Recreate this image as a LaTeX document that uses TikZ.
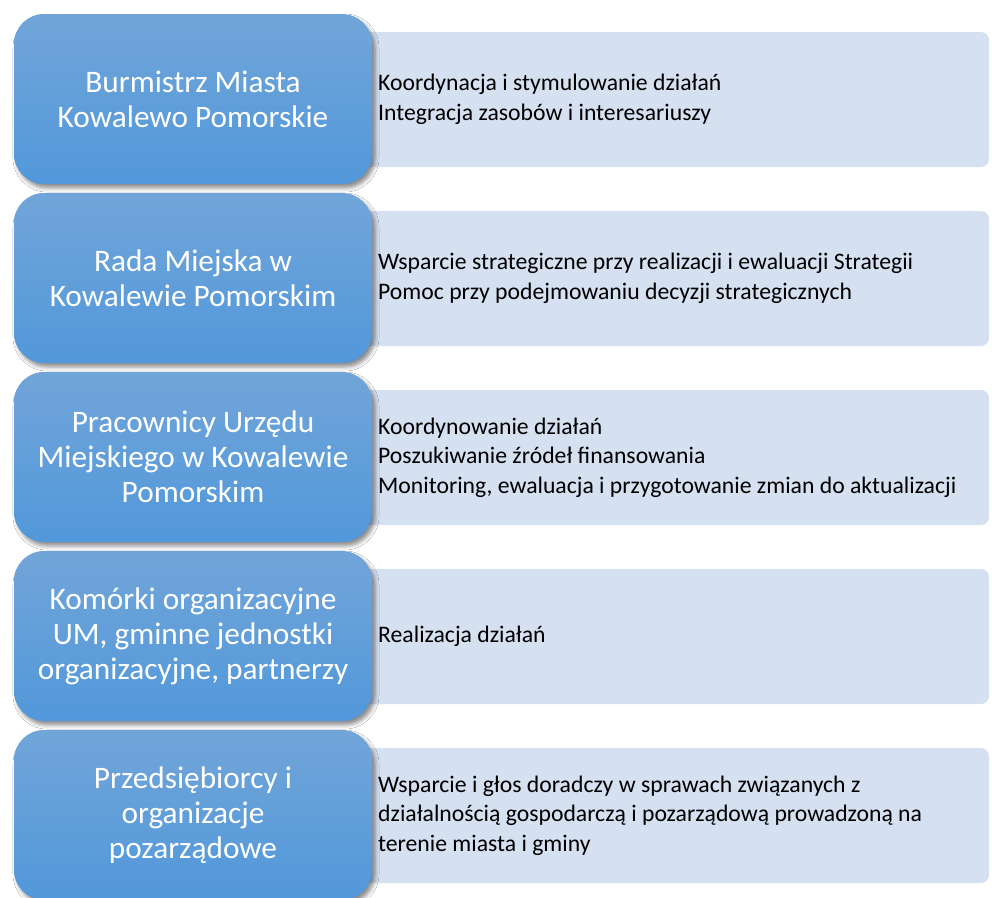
\documentclass[tikz,border=0pt]{standalone}
\usepackage{fontspec}
\setmainfont{Carlito}
\usetikzlibrary{shadows.blur}
\definecolor{blueTop}{HTML}{71A5D9}
\definecolor{blueBot}{HTML}{5298DA}
\definecolor{lightBox}{HTML}{D5E0F0}
\tikzset{
  bluebox/.style={rectangle, rounded corners=30pt, top color=blueTop, bottom color=blueBot,
    draw=none, minimum width=358pt, minimum height=170pt, inner sep=0pt,
    text=white, font=\fontsize{31.3}{35}\selectfont, align=center,
    blur shadow={shadow xshift=3pt, shadow yshift=-4pt, shadow blur radius=4pt, shadow opacity=45}},
  lightbox/.style={rectangle, rounded corners=8pt, fill=lightBox, draw=none,
    minimum width=689pt, minimum height=135pt, inner sep=0pt},
  desc/.style={text=black, font=\fontsize{23.7}{29.5}\selectfont, align=left, anchor=west, inner sep=0pt}
}
\begin{document}
\begin{tikzpicture}[x=1pt,y=-1pt]
\useasboundingbox (0,0) rectangle (992,897);
\fill[white] (0,0) rectangle (992,897);
% light boxes
\node[lightbox] (l1) at (644.5,99.5) {};
\node[lightbox] (l2) at (644.5,278.5) {};
\node[lightbox] (l3) at (644.5,457.5) {};
\node[lightbox] (l4) at (644.5,636.5) {};
\node[lightbox] (l5) at (644.5,815.5) {};
% descriptions
\node[desc] (d1) at (378,99.5) {Koordynacja i stymulowanie działań\\Integracja zasobów i interesariuszy};
\node[desc] (d2) at (378,278.5) {Wsparcie strategiczne przy realizacji i ewaluacji Strategii\\Pomoc przy podejmowaniu decyzji strategicznych};
\node[desc] (d3) at (378,457.5) {Koordynowanie działań\\Poszukiwanie źródeł finansowania\\Monitoring, ewaluacja i przygotowanie zmian do aktualizacji};
\node[desc] (d4) at (378,636.5) {Realizacja działań};
\node[desc] (d5) at (378,815.5) {Wsparcie i głos doradczy w sprawach związanych z\\działalnością gospodarczą i pozarządową prowadzoną na\\terenie miasta i gminy};
% blue boxes
\node[bluebox] (b1) at (193,99) {Burmistrz Miasta\\Kowalewo Pomorskie};
\node[bluebox] (b2) at (193,278) {Rada Miejska w\\Kowalewie Pomorskim};
\node[bluebox] (b3) at (193,457) {Pracownicy Urzędu\\Miejskiego w Kowalewie\\Pomorskim};
\node[bluebox] (b4) at (193,636) {Komórki organizacyjne\\UM, gminne jednostki\\organizacyjne, partnerzy};
\node[bluebox] (b5) at (193,815) {Przedsiębiorcy i\\organizacje\\pozarządowe};
\end{tikzpicture}
\end{document}
